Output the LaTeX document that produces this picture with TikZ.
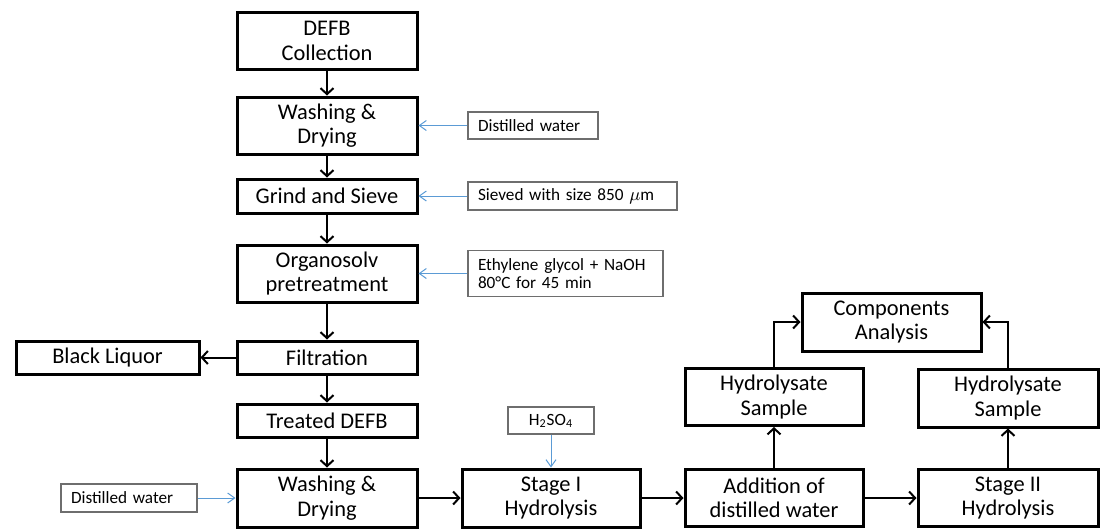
\documentclass[tikz,border=0pt]{standalone}
\usepackage{fontspec}
\setmainfont{Carlito}
\usetikzlibrary{arrows.meta}
\definecolor{feedblue}{RGB}{91,155,213}
\definecolor{notegray}{RGB}{110,110,110}

\begin{document}
\begin{tikzpicture}[x=0.5pt, y=-0.5pt,
    procbox/.style={draw, line width=1.5pt, minimum width=90pt, minimum height=28.5pt,
      inner sep=0pt, align=center, font=\fontsize{11.2}{12.2}\selectfont},
    notebox/.style={draw=notegray, line width=0.6pt, inner xsep=5pt, inner ysep=0pt,
      align=left, font=\fontsize{8.6}{8.6}\selectfont},
    flow/.style={line width=1pt, -{Straight Barb[length=3pt,width=6.5pt]}},
    feed/.style={feedblue, line width=0.5pt, -{Straight Barb[length=3.5pt,width=5pt]}}]
    \useasboundingbox (0,0) rectangle (1110,531);
    % main column
    \node[procbox] (collect) at (327,41) {DEFB\\Collection};
    \node[procbox] (wash1) at (327,125.5) {Washing \&\\Drying};
    \node[procbox, minimum height=17pt] (grind) at (327,196) {Grind and Sieve};
    \node[procbox] (organo) at (327,273.5) {Organosolv\\pretreatment};
    \node[procbox, minimum height=16.5pt] (filt) at (327,357.5) {Filtration};
    \node[procbox, minimum width=91.5pt, minimum height=16.5pt] (liquor) at (107.5,357.5) {Black Liquor};
    \node[procbox, minimum height=16.5pt] (treated) at (327,420.5) {Treated DEFB};
    \node[procbox, minimum height=29pt] (wash2) at (327,498) {Washing \&\\Drying};
    % hydrolysis row
    \node[procbox, minimum width=89pt, minimum height=29pt] (stage1) at (551,498) {Stage I\\Hydrolysis};
    \node[procbox, minimum width=89pt] (addwater) at (774,498) {Addition of\\distilled water};
    \node[procbox] (stage2) at (1008,498) {Stage II\\Hydrolysis};
    \node[procbox, minimum width=89pt] (hydro1) at (774,397) {Hydrolysate\\Sample};
    \node[procbox, minimum height=29pt] (hydro2) at (1008,398) {Hydrolysate\\Sample};
    \node[procbox, minimum width=89.5pt, minimum height=29pt] (comp) at (891.5,322) {Components\\Analysis};
    % inputs
    \node[notebox, text width=55pt, minimum height=13.5pt] (water1) at (533,125.5) {Distilled water};
    \node[notebox, text width=94.5pt, minimum height=14pt] (sieve) at (572.5,196) {Sieved with size 850 $\mu$m};
    \node[notebox, text width=87.5pt, minimum height=23pt] (glycol) at (565.5,273.5) {Ethylene glycol + NaOH\\80°C for 45 min};
    \node[notebox, align=center, minimum width=43pt, minimum height=13.5pt] (acid) at (551,420.5) {H\textsubscript{2}SO\textsubscript{4}};
    \node[notebox, text width=58pt, minimum height=14pt] (water2) at (129,498) {Distilled water};

    \draw[flow] (collect) -- (wash1);
    \draw[flow] (wash1) -- (grind);
    \draw[flow] (grind) -- (organo);
    \draw[flow] (organo) -- (filt);
    \draw[flow] (filt) -- (liquor);
    \draw[flow] (filt) -- (treated);
    \draw[flow] (treated) -- (wash2);
    \draw[flow] (wash2) -- (stage1);
    \draw[flow] (stage1) -- (addwater);
    \draw[flow] (addwater) -- (stage2);
    \draw[flow] (addwater) -- (hydro1);
    \draw[flow] (stage2) -- (hydro2);
    \draw[flow] (hydro1) |- (comp);
    \draw[flow] (hydro2) |- (comp);

    \draw[feed] (water1) -- (wash1);
    \draw[feed] (sieve) -- (grind);
    \draw[feed] (glycol) -- (organo);
    \draw[feed] (acid) -- (stage1);
    \draw[feed] (water2) -- (wash2);
\end{tikzpicture}
\end{document}
